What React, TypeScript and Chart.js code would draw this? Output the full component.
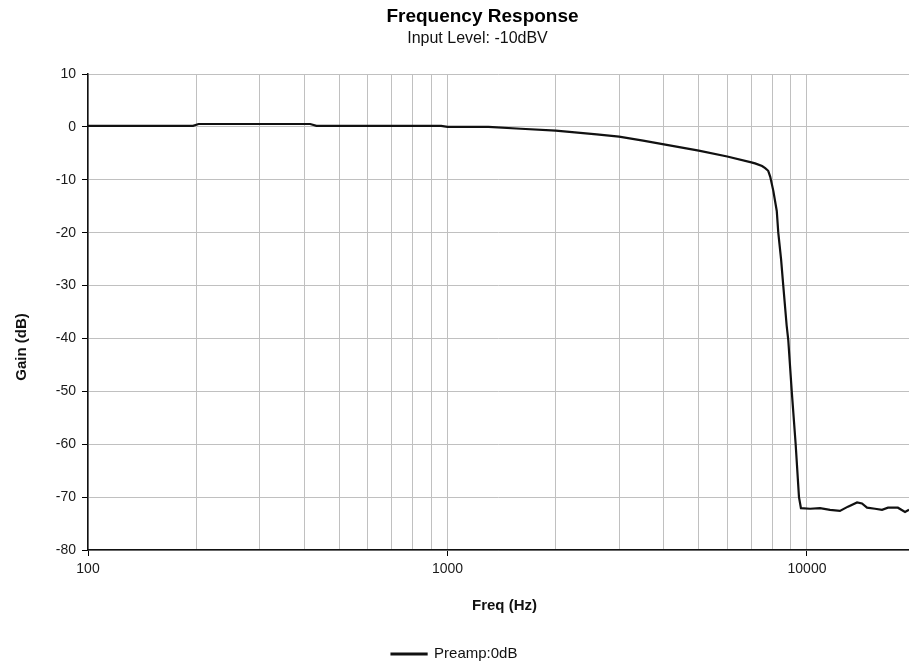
import React, { useEffect, useRef } from "react";
import { Chart, registerables } from "chart.js";

Chart.register(...registerables);

const TITLE = "Frequency Response";
const SUBTITLE = "Input Level: -10dBV";
const X_TITLE = "Freq (Hz)";
const Y_TITLE = "Gain (dB)";
const SERIES_LABEL = "Preamp:0dB";

const freqHz = [
  100, 150, 196, 203, 300, 415, 432, 600, 800, 960, 1000, 1300, 1600, 2000,
  2600, 3000, 3500, 4000, 5000, 6000, 7000, 7170, 7500, 7650, 7800, 7900, 8060,
  8240, 8320, 8470, 8590, 8780, 8870, 9070, 9300, 9500, 9620, 10200, 10870,
  11590, 12350, 13000, 13780, 14220, 14690, 15460, 16170, 16800, 17900, 18740,
  19220,
];
const gainDb = [
  0.2, 0.2, 0.2, 0.55, 0.55, 0.55, 0.2, 0.2, 0.2, 0.2, 0.0, 0.0, -0.35, -0.7,
  -1.4, -1.85, -2.6, -3.3, -4.5, -5.6, -6.7, -6.9, -7.4, -7.8, -8.3, -9.4,
  -12.1, -15.9, -20, -25, -30, -37.6, -40.3, -50, -60, -70, -72.1, -72.2,
  -72.1, -72.4, -72.6, -71.8, -71.0, -71.2, -72.0, -72.2, -72.4, -72.0, -72.0,
  -72.8, -72.4,
];

const xTickValues = [
  100, 200, 300, 400, 500, 600, 700, 800, 900, 1000, 2000, 3000, 4000, 5000,
  6000, 7000, 8000, 9000, 10000,
];
const xLabeledTicks = [100, 1000, 10000];
const X_MIN = 100;
const X_MAX = 19220;
const Y_MIN = -80;
const Y_MAX = 10;
const Y_STEP = 10;

const FONT = "'Liberation Sans', Arial, sans-serif";

const adjustPlugin = {
  id: "adjustPositions",
  afterLayout(chart: any) {
    chart.boxes.forEach((b: any) => {
      const t = b.options && b.options.text;
      if (t === TITLE) {
        b.left += 28;
        b.right += 28;
      } else if (t === SUBTITLE) {
        b.left += 23;
        b.right += 23;
      }
    });
    if (chart.legend) {
      chart.legend.top += 7.5;
      chart.legend.bottom += 7.5;
    }
    const y = chart.scales.y;
    if (y && !y._shiftPatched) {
      const orig = y.drawTitle.bind(y);
      y.drawTitle = () => {
        const c = chart.ctx;
        c.save();
        c.translate(0, 35);
        orig();
        c.restore();
      };
      y._shiftPatched = true;
    }
    const x = chart.scales.x;
    if (x && !x._shiftPatched) {
      const origX = x.drawTitle.bind(x);
      x.drawTitle = () => {
        const c = chart.ctx;
        c.save();
        c.translate(6, 0);
        origX();
        c.restore();
      };
      x._shiftPatched = true;
    }
  },
};

export default function App() {
  const canvasRef = useRef<HTMLCanvasElement | null>(null);

  useEffect(() => {
    if (!canvasRef.current) return;
    const points = freqHz.map((f, i) => ({ x: f, y: gainDb[i] }));
    const chart = new Chart(canvasRef.current, {
      type: "line",
      data: {
        datasets: [
          {
            label: SERIES_LABEL,
            data: points,
            borderColor: "#111111",
            backgroundColor: "#111111",
            borderWidth: 2.2,
            pointRadius: 0,
            tension: 0,
            fill: false,
          },
        ],
      },
      plugins: [adjustPlugin],
      options: {
        animation: false,
        responsive: true,
        maintainAspectRatio: false,
        layout: { padding: 0 },
        plugins: {
          title: {
            display: true,
            text: TITLE,
            color: "#000000",
            font: { family: FONT, size: 19, weight: "bold" },
            padding: { top: 5.6, bottom: 0 },
          },
          subtitle: {
            display: true,
            text: SUBTITLE,
            color: "#111111",
            font: { family: FONT, size: 16 },
            padding: { top: 1, bottom: 25.4 },
          },
          legend: {
            display: true,
            position: "bottom",
            labels: {
              boxWidth: 35,
              boxHeight: 1,
              padding: 10,
              color: "#111111",
              font: { family: FONT, size: 15 },
            },
          },
          tooltip: { enabled: false },
        },
        scales: {
          x: {
            type: "logarithmic",
            min: X_MIN,
            max: X_MAX,
            afterBuildTicks: (scale: any) => {
              scale.ticks = xTickValues.map((v) => ({
                value: v,
                major: xLabeledTicks.includes(v),
              }));
            },
            afterFit: (scale: any) => {
              scale.height = 79;
            },
            ticks: {
              autoSkip: false,
              maxRotation: 0,
              minRotation: 0,
              padding: 5,
              color: "#1a1a1a",
              font: { family: FONT, size: 14 },
              callback: (value: any) =>
                xLabeledTicks.includes(Number(value)) ? String(value) : "",
            },
            grid: {
              color: "#c0c0c0",
              lineWidth: 1,
              tickLength: 6,
              tickColor: (ctx: any) =>
                ctx.tick && xLabeledTicks.includes(ctx.tick.value)
                  ? "#000000"
                  : "rgba(0,0,0,0)",
            },
            border: { display: true, color: "#111111", width: 1.5 },
            title: {
              display: true,
              text: X_TITLE,
              color: "#111111",
              font: { family: FONT, size: 15, weight: "bold" },
              padding: { top: 0, bottom: 14 },
            },
          },
          y: {
            type: "linear",
            min: Y_MIN,
            max: Y_MAX,
            afterFit: (scale: any) => {
              scale.width = 88;
            },
            ticks: {
              stepSize: Y_STEP,
              padding: 6,
              color: "#1a1a1a",
              font: { family: FONT, size: 14 },
              callback: (value: any) => String(value),
            },
            grid: {
              color: "#c0c0c0",
              lineWidth: 1,
              tickLength: 6,
              tickColor: "#000000",
            },
            border: { display: true, color: "#111111", width: 1.5 },
            title: {
              display: true,
              text: Y_TITLE,
              color: "#111111",
              font: { family: FONT, size: 15, weight: "bold" },
              padding: { top: 13, bottom: 0 },
            },
          },
        },
      } as any,
    });
    return () => chart.destroy();
  }, []);

  return (
    <div
      style={{
        position: "fixed",
        left: 0,
        top: 0,
        width: "909px",
        height: "664px",
        background: "#ffffff",
      }}
    >
      <canvas ref={canvasRef} />
    </div>
  );
}
